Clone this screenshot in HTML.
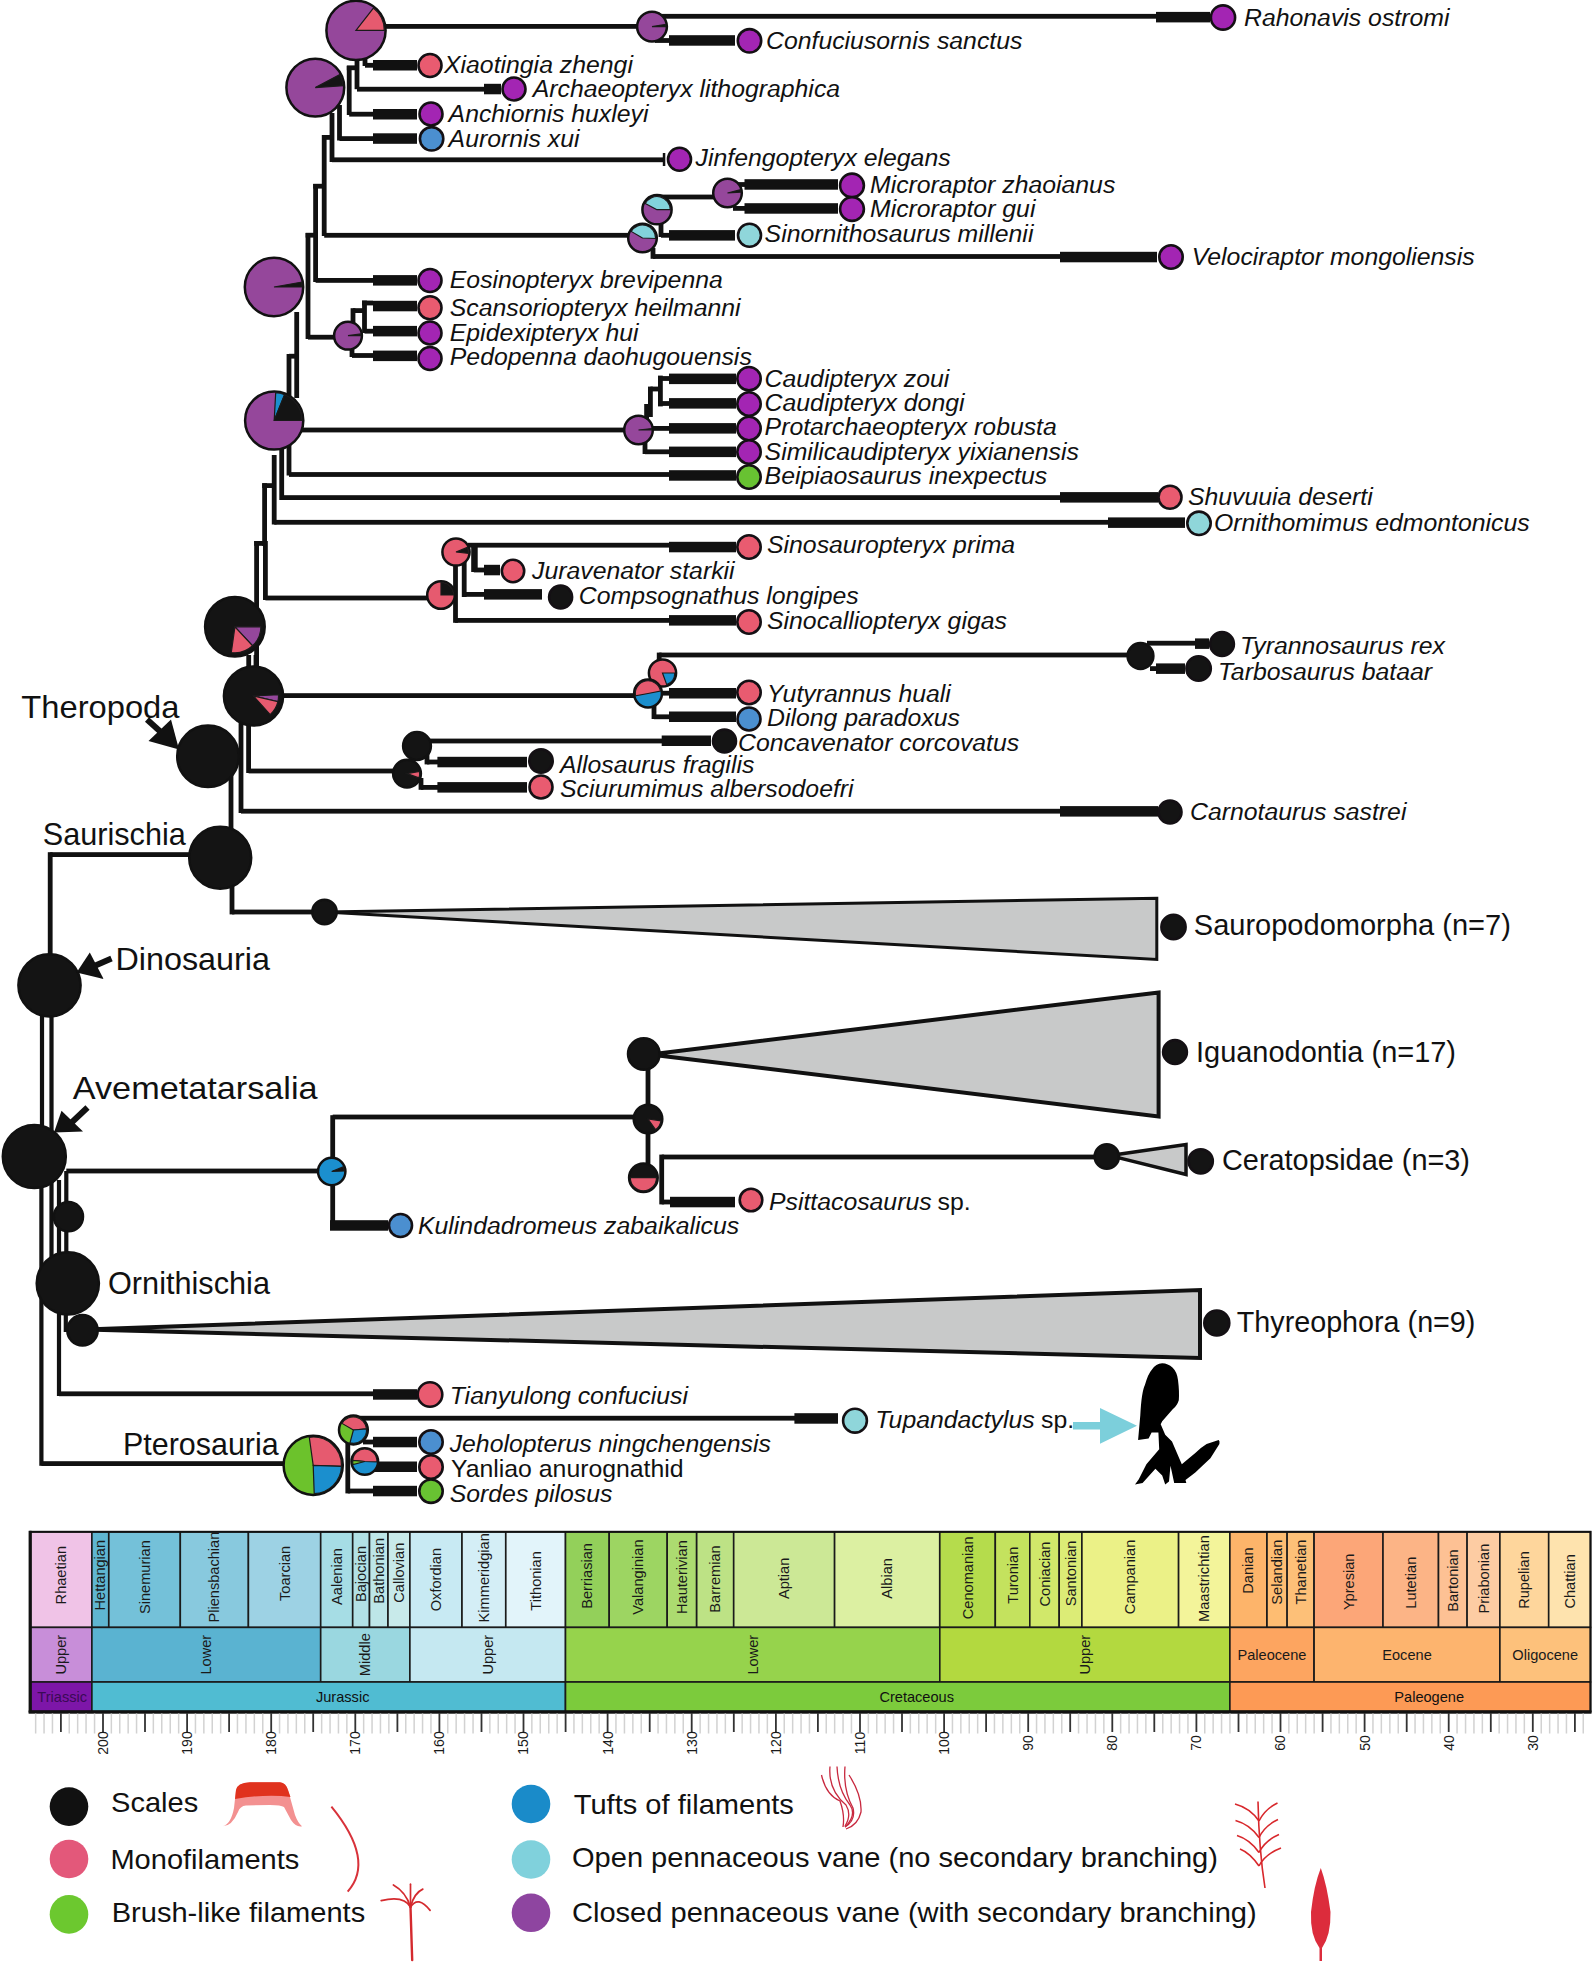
<!DOCTYPE html>
<html><head><meta charset="utf-8"><title>Dinosaur integument phylogeny</title>
<style>html,body{margin:0;padding:0;background:#fff;width:1593px;height:1967px;overflow:hidden;position:relative}</style>
</head><body>
<svg width="1593" height="1967" viewBox="0 0 1593 1967" style="position:absolute;left:0;top:0;font-family:'Liberation Sans',sans-serif">
<rect width="1593" height="1967" fill="#fff"/>
<g fill="#111">
<rect x="370.0" y="24.0" width="282.0" height="4.8"/>
<rect x="655.0" y="13.9" width="501.0" height="4.8"/>
<rect x="654.6" y="12.0" width="4.8" height="8.0"/>
<rect x="1156.0" y="11.9" width="54.0" height="10.5"/>
<rect x="655.0" y="38.1" width="14.0" height="4.8"/>
<rect x="669.0" y="35.2" width="66.0" height="10.5"/>
<rect x="354.6" y="55.0" width="4.8" height="34.2"/>
<rect x="357.0" y="86.8" width="127.0" height="4.8"/>
<rect x="484.0" y="83.8" width="17.0" height="10.5"/>
<rect x="362.6" y="58.0" width="4.8" height="8.0"/>
<rect x="365.0" y="62.9" width="8.0" height="4.8"/>
<rect x="373.0" y="60.0" width="44.0" height="10.5"/>
<rect x="346.8" y="65.4" width="11.2" height="4.8"/>
<rect x="346.8" y="66.0" width="4.8" height="49.0"/>
<rect x="349.2" y="111.8" width="23.8" height="4.8"/>
<rect x="373.0" y="109.0" width="44.0" height="10.5"/>
<rect x="337.1" y="105.0" width="4.8" height="35.5"/>
<rect x="339.5" y="136.2" width="33.5" height="4.8"/>
<rect x="373.0" y="133.3" width="44.0" height="10.5"/>
<rect x="329.6" y="113.0" width="4.8" height="49.0"/>
<rect x="332.0" y="157.4" width="333.0" height="4.8"/>
<rect x="662.8" y="153.0" width="2.5" height="13.0"/>
<rect x="321.8" y="135.0" width="4.8" height="101.0"/>
<rect x="322.0" y="135.0" width="12.0" height="4.8"/>
<rect x="324.2" y="232.9" width="305.8" height="4.8"/>
<rect x="313.2" y="184.0" width="4.8" height="98.0"/>
<rect x="313.2" y="183.8" width="12.8" height="4.8"/>
<rect x="315.6" y="278.0" width="57.4" height="4.8"/>
<rect x="373.0" y="275.1" width="44.0" height="10.5"/>
<rect x="305.6" y="233.0" width="4.8" height="106.0"/>
<rect x="305.6" y="232.8" width="12.4" height="4.8"/>
<rect x="308.0" y="334.8" width="27.0" height="4.8"/>
<rect x="660.0" y="194.6" width="54.0" height="4.8"/>
<rect x="735.0" y="182.1" width="10.0" height="4.8"/>
<rect x="744.5" y="179.2" width="93.5" height="10.5"/>
<rect x="733.0" y="206.0" width="12.0" height="4.8"/>
<rect x="744.5" y="203.2" width="93.5" height="10.5"/>
<rect x="658.6" y="222.0" width="4.8" height="15.0"/>
<rect x="661.0" y="232.9" width="8.0" height="4.8"/>
<rect x="669.0" y="230.1" width="66.0" height="10.5"/>
<rect x="650.6" y="248.0" width="4.8" height="10.8"/>
<rect x="653.0" y="254.1" width="407.0" height="4.8"/>
<rect x="1060.0" y="251.8" width="97.0" height="10.5"/>
<rect x="362.1" y="300.6" width="4.8" height="32.4"/>
<rect x="362.0" y="300.6" width="11.0" height="4.8"/>
<rect x="373.0" y="300.8" width="44.0" height="10.5"/>
<rect x="350.6" y="308.2" width="4.8" height="23.8"/>
<rect x="353.0" y="308.2" width="13.0" height="4.8"/>
<rect x="364.5" y="328.8" width="8.5" height="4.8"/>
<rect x="373.0" y="325.9" width="44.0" height="10.5"/>
<rect x="349.6" y="343.0" width="4.8" height="14.0"/>
<rect x="352.0" y="353.1" width="21.0" height="4.8"/>
<rect x="373.0" y="350.6" width="44.0" height="10.5"/>
<rect x="294.3" y="312.0" width="4.8" height="86.0"/>
<rect x="286.6" y="354.0" width="4.8" height="121.5"/>
<rect x="289.0" y="353.8" width="9.0" height="4.8"/>
<rect x="300.0" y="427.6" width="325.0" height="4.8"/>
<rect x="658.0" y="375.6" width="4.8" height="30.8"/>
<rect x="660.4" y="376.1" width="8.6" height="4.8"/>
<rect x="660.4" y="401.1" width="8.6" height="4.8"/>
<rect x="669.0" y="373.6" width="67.0" height="10.5"/>
<rect x="669.0" y="398.1" width="67.0" height="10.5"/>
<rect x="648.0" y="386.6" width="4.8" height="30.4"/>
<rect x="650.4" y="386.6" width="11.6" height="4.8"/>
<rect x="644.2" y="404.0" width="4.8" height="16.0"/>
<rect x="650.0" y="426.0" width="19.0" height="4.8"/>
<rect x="669.0" y="423.1" width="67.0" height="10.5"/>
<rect x="642.6" y="440.0" width="4.8" height="14.0"/>
<rect x="645.0" y="449.4" width="24.0" height="4.8"/>
<rect x="669.0" y="446.6" width="67.0" height="10.5"/>
<rect x="289.0" y="472.1" width="380.0" height="4.8"/>
<rect x="669.0" y="470.2" width="67.0" height="10.5"/>
<rect x="279.3" y="445.0" width="4.8" height="55.0"/>
<rect x="281.7" y="495.2" width="778.3" height="4.8"/>
<rect x="1060.0" y="492.1" width="98.0" height="10.5"/>
<rect x="271.8" y="455.0" width="4.8" height="69.5"/>
<rect x="274.2" y="519.9" width="833.8" height="4.8"/>
<rect x="1108.0" y="517.4" width="77.0" height="10.5"/>
<rect x="262.2" y="483.2" width="4.8" height="62.8"/>
<rect x="262.2" y="483.2" width="13.8" height="4.8"/>
<rect x="254.2" y="541.0" width="4.8" height="127.0"/>
<rect x="254.2" y="541.0" width="12.8" height="4.8"/>
<rect x="263.0" y="541.0" width="4.8" height="59.0"/>
<rect x="265.4" y="595.6" width="164.6" height="4.8"/>
<rect x="468.0" y="542.8" width="201.0" height="4.8"/>
<rect x="669.0" y="541.8" width="67.0" height="10.5"/>
<rect x="471.2" y="543.0" width="6.5" height="29.0"/>
<rect x="473.8" y="567.6" width="10.2" height="4.8"/>
<rect x="484.0" y="564.8" width="16.0" height="10.5"/>
<rect x="461.8" y="560.0" width="4.8" height="37.0"/>
<rect x="463.7" y="592.0" width="20.3" height="4.8"/>
<rect x="484.0" y="589.1" width="58.0" height="10.5"/>
<rect x="453.1" y="560.0" width="4.8" height="62.8"/>
<rect x="455.0" y="618.0" width="214.0" height="4.8"/>
<rect x="669.0" y="615.1" width="67.0" height="10.5"/>
<rect x="246.3" y="655.0" width="4.8" height="15.0"/>
<rect x="253.6" y="655.0" width="4.8" height="15.0"/>
<rect x="280.0" y="693.2" width="355.0" height="4.8"/>
<rect x="656.8" y="652.6" width="4.8" height="13.4"/>
<rect x="659.2" y="652.6" width="468.8" height="4.8"/>
<rect x="1147.0" y="640.8" width="49.0" height="4.8"/>
<rect x="1195.0" y="638.4" width="14.0" height="10.5"/>
<rect x="1150.0" y="666.2" width="7.0" height="4.8"/>
<rect x="1156.0" y="663.4" width="29.0" height="10.5"/>
<rect x="660.0" y="690.8" width="9.0" height="4.8"/>
<rect x="669.0" y="688.0" width="67.0" height="10.5"/>
<rect x="651.6" y="703.0" width="4.8" height="16.0"/>
<rect x="654.0" y="714.4" width="15.0" height="4.8"/>
<rect x="669.0" y="711.5" width="67.0" height="10.5"/>
<rect x="238.6" y="720.0" width="4.8" height="93.0"/>
<rect x="241.0" y="808.8" width="819.0" height="4.8"/>
<rect x="1060.0" y="806.1" width="98.0" height="10.5"/>
<rect x="246.2" y="720.0" width="4.8" height="53.0"/>
<rect x="248.6" y="768.6" width="146.4" height="4.8"/>
<rect x="430.0" y="738.6" width="232.0" height="4.8"/>
<rect x="661.7" y="735.5" width="49.3" height="10.5"/>
<rect x="424.6" y="754.0" width="4.8" height="10.4"/>
<rect x="427.0" y="759.6" width="11.0" height="4.8"/>
<rect x="437.4" y="756.8" width="89.6" height="10.5"/>
<rect x="418.6" y="778.0" width="4.8" height="11.8"/>
<rect x="421.0" y="785.0" width="17.0" height="4.8"/>
<rect x="437.4" y="782.1" width="89.6" height="10.5"/>
<rect x="228.6" y="770.0" width="4.8" height="60.0"/>
<rect x="50.2" y="852.2" width="144.8" height="4.8"/>
<rect x="47.8" y="852.2" width="4.8" height="107.8"/>
<rect x="229.6" y="880.0" width="4.8" height="34.4"/>
<rect x="232.0" y="909.6" width="83.0" height="4.8"/>
<rect x="39.9" y="1010.0" width="4.2" height="120.0"/>
<rect x="49.4" y="1010.0" width="4.2" height="120.0"/>
<rect x="39.3" y="1180.0" width="4.2" height="285.8"/>
<rect x="49.4" y="1180.0" width="4.2" height="80.0"/>
<rect x="56.9" y="1180.0" width="4.2" height="216.0"/>
<rect x="64.2" y="1171.0" width="4.2" height="89.0"/>
<rect x="41.4" y="1461.2" width="248.6" height="4.8"/>
<rect x="59.0" y="1391.4" width="314.0" height="4.8"/>
<rect x="373.0" y="1389.2" width="44.0" height="10.5"/>
<rect x="63.7" y="1300.0" width="4.2" height="32.0"/>
<rect x="65.8" y="1327.2" width="24.2" height="4.8"/>
<rect x="66.3" y="1168.6" width="253.7" height="4.8"/>
<rect x="330.3" y="1115.2" width="4.8" height="114.8"/>
<rect x="332.7" y="1114.6" width="307.3" height="4.8"/>
<rect x="330.0" y="1220.2" width="58.0" height="10.5"/>
<rect x="645.6" y="1060.0" width="4.8" height="105.0"/>
<rect x="659.3" y="1154.6" width="4.8" height="49.8"/>
<rect x="661.7" y="1154.6" width="433.3" height="4.8"/>
<rect x="661.7" y="1199.6" width="8.3" height="4.8"/>
<rect x="670.0" y="1196.8" width="65.0" height="10.5"/>
<rect x="360.0" y="1415.8" width="435.0" height="4.8"/>
<rect x="794.4" y="1413.2" width="43.6" height="10.5"/>
<rect x="363.0" y="1439.6" width="10.0" height="4.8"/>
<rect x="373.0" y="1436.8" width="44.0" height="10.5"/>
<rect x="370.0" y="1464.4" width="3.0" height="4.8"/>
<rect x="373.0" y="1461.5" width="44.0" height="10.5"/>
<rect x="345.4" y="1440.0" width="4.8" height="53.4"/>
<rect x="347.8" y="1488.6" width="25.2" height="4.8"/>
<rect x="373.0" y="1485.8" width="44.0" height="10.5"/>
</g>
<g fill="#c8c9c9" stroke="#111" stroke-linejoin="miter">
<path d="M325,912 L1156.8,898.2 L1156.8,959.5 Z" stroke-width="3"/>
<path d="M650,1054.4 L1158.6,992.4 L1158.6,1116.4 Z" stroke-width="4"/>
<path d="M1110,1155.6 L1186,1144.6 L1186,1174.5 Z" stroke-width="3.5"/>
<path d="M85,1329.6 L1200,1290 L1200,1358 Z" stroke-width="4"/>
</g>
<circle cx="356.0" cy="30.4" r="29.6" fill="#95479b" stroke="#111" stroke-width="2.5"/>
<path d="M356.0,30.4 L373.4,8.1 A28.3,28.3 0 0 1 384.3,30.4 Z" fill="#e65a6f" stroke="#1a1a1a" stroke-width="1.2"/>
<circle cx="315.3" cy="87.6" r="28.9" fill="#95479b" stroke="#111" stroke-width="2.5"/>
<path d="M315.3,87.6 L339.8,74.6 A27.7,27.7 0 0 1 342.9,85.7 Z" fill="#141414" stroke="#1a1a1a" stroke-width="1.2"/>
<circle cx="652.0" cy="26.6" r="14.9" fill="#95479b" stroke="#111" stroke-width="2.5"/>
<path d="M652.0,26.6 L665.5,24.5 A13.7,13.7 0 0 1 665.7,26.6 Z" fill="#141414" stroke="#1a1a1a" stroke-width="1.2"/>
<circle cx="1223.0" cy="17.5" r="12.1" fill="#a325b3" stroke="#141014" stroke-width="2.6"/>
<circle cx="749.5" cy="40.8" r="11.7" fill="#a325b3" stroke="#141014" stroke-width="2.6"/>
<circle cx="514.0" cy="89.0" r="11.5" fill="#a325b3" stroke="#141014" stroke-width="2.6"/>
<circle cx="430.0" cy="65.5" r="11.5" fill="#e95b70" stroke="#141014" stroke-width="2.6"/>
<circle cx="431.0" cy="114.0" r="11.5" fill="#a325b3" stroke="#141014" stroke-width="2.6"/>
<circle cx="431.6" cy="138.8" r="11.7" fill="#4b8fd0" stroke="#141014" stroke-width="2.6"/>
<circle cx="679.5" cy="159.2" r="11.5" fill="#a325b3" stroke="#141014" stroke-width="2.6"/>
<circle cx="727.5" cy="193.0" r="14.3" fill="#95479b" stroke="#111" stroke-width="2.5"/>
<path d="M727.5,193.0 L740.2,189.8 A13.1,13.1 0 0 1 740.6,192.1 Z" fill="#141414" stroke="#1a1a1a" stroke-width="1.2"/>
<circle cx="657.0" cy="209.7" r="14.6" fill="#95479b" stroke="#111" stroke-width="2.5"/>
<path d="M657.0,209.7 L645.3,203.5 A13.3,13.3 0 0 1 670.3,209.7 Z" fill="#82d3db" stroke="#1a1a1a" stroke-width="1.2"/>
<circle cx="642.5" cy="238.0" r="14.3" fill="#95479b" stroke="#111" stroke-width="2.5"/>
<path d="M642.5,238.0 L631.2,231.4 A13.1,13.1 0 0 1 655.6,238.5 Z" fill="#82d3db" stroke="#1a1a1a" stroke-width="1.2"/>
<circle cx="852.0" cy="185.5" r="11.9" fill="#a325b3" stroke="#141014" stroke-width="2.6"/>
<circle cx="852.0" cy="209.0" r="11.9" fill="#a325b3" stroke="#141014" stroke-width="2.6"/>
<circle cx="749.5" cy="235.2" r="11.5" fill="#8fd6da" stroke="#141014" stroke-width="2.6"/>
<circle cx="1171.0" cy="257.0" r="11.7" fill="#a325b3" stroke="#141014" stroke-width="2.6"/>
<circle cx="274.0" cy="287.0" r="29.2" fill="#95479b" stroke="#111" stroke-width="2.5"/>
<path d="M274.0,287.0 L301.6,282.1 A28.0,28.0 0 0 1 302.0,287.0 Z" fill="#141414" stroke="#1a1a1a" stroke-width="1.2"/>
<circle cx="348.0" cy="335.7" r="13.9" fill="#95479b" stroke="#111" stroke-width="2.5"/>
<path d="M348.0,335.7 L360.6,333.9 A12.7,12.7 0 0 1 360.7,335.7 Z" fill="#141414" stroke="#1a1a1a" stroke-width="1.2"/>
<circle cx="430.0" cy="280.5" r="11.5" fill="#a325b3" stroke="#141014" stroke-width="2.6"/>
<circle cx="430.0" cy="307.7" r="11.5" fill="#e95b70" stroke="#141014" stroke-width="2.6"/>
<circle cx="430.0" cy="333.0" r="11.5" fill="#a325b3" stroke="#141014" stroke-width="2.6"/>
<circle cx="430.0" cy="358.5" r="11.5" fill="#a325b3" stroke="#141014" stroke-width="2.6"/>
<circle cx="274.2" cy="420.5" r="29.1" fill="#95479b" stroke="#111" stroke-width="2.5"/>
<path d="M274.2,420.5 L275.7,392.7 A27.8,27.8 0 0 1 284.6,394.7 Z" fill="#1b8fce" stroke="#1a1a1a" stroke-width="1.2"/>
<path d="M274.2,420.5 L284.6,394.7 A27.8,27.8 0 0 1 302.0,420.5 Z" fill="#141414" stroke="#1a1a1a" stroke-width="1.2"/>
<circle cx="638.5" cy="430.0" r="14.3" fill="#95479b" stroke="#111" stroke-width="2.5"/>
<path d="M638.5,430.0 L651.5,428.6 A13.1,13.1 0 0 1 651.6,430.0 Z" fill="#141414" stroke="#1a1a1a" stroke-width="1.2"/>
<circle cx="749.0" cy="378.7" r="11.7" fill="#a325b3" stroke="#141014" stroke-width="2.6"/>
<circle cx="749.0" cy="404.0" r="11.7" fill="#a325b3" stroke="#141014" stroke-width="2.6"/>
<circle cx="749.0" cy="428.5" r="11.7" fill="#a325b3" stroke="#141014" stroke-width="2.6"/>
<circle cx="749.0" cy="452.0" r="11.7" fill="#a325b3" stroke="#141014" stroke-width="2.6"/>
<circle cx="749.0" cy="477.0" r="11.7" fill="#68c232" stroke="#141014" stroke-width="2.6"/>
<circle cx="1170.0" cy="497.2" r="11.5" fill="#e95b70" stroke="#141014" stroke-width="2.6"/>
<circle cx="1199.0" cy="523.3" r="11.7" fill="#8fd6da" stroke="#141014" stroke-width="2.6"/>
<circle cx="456.0" cy="552.0" r="13.6" fill="#e65a6f" stroke="#111" stroke-width="2.5"/>
<path d="M456.0,552.0 L467.4,547.4 A12.3,12.3 0 0 1 468.2,553.3 Z" fill="#141414" stroke="#1a1a1a" stroke-width="1.2"/>
<circle cx="441.0" cy="595.0" r="13.8" fill="#e65a6f" stroke="#111" stroke-width="2.5"/>
<path d="M441.0,595.0 L441.0,582.5 A12.5,12.5 0 0 1 453.5,595.0 Z" fill="#141414" stroke="#1a1a1a" stroke-width="1.2"/>
<circle cx="749.0" cy="547.0" r="11.7" fill="#e95b70" stroke="#141014" stroke-width="2.6"/>
<circle cx="513.0" cy="571.0" r="11.2" fill="#e95b70" stroke="#141014" stroke-width="2.6"/>
<circle cx="560.6" cy="597.0" r="11.5" fill="#141414" stroke="#141014" stroke-width="2.6"/>
<circle cx="749.0" cy="622.0" r="11.7" fill="#e95b70" stroke="#141014" stroke-width="2.6"/>
<circle cx="234.9" cy="626.8" r="29.8" fill="#141414" stroke="#111" stroke-width="2.5"/>
<path d="M234.9,626.8 L260.9,626.8 A26.0,26.0 0 0 1 252.6,645.8 Z" fill="#95479b" stroke="#1a1a1a" stroke-width="1.2"/>
<path d="M234.9,626.8 L252.6,645.8 A26.0,26.0 0 0 1 231.3,652.5 Z" fill="#e65a6f" stroke="#1a1a1a" stroke-width="1.2"/>
<circle cx="253.5" cy="696.0" r="29.6" fill="#141414" stroke="#111" stroke-width="2.5"/>
<path d="M253.5,696.0 L278.5,694.7 A25.0,25.0 0 0 1 277.9,701.6 Z" fill="#95479b" stroke="#1a1a1a" stroke-width="1.2"/>
<path d="M253.5,696.0 L277.9,701.6 A25.0,25.0 0 0 1 270.2,714.6 Z" fill="#e65a6f" stroke="#1a1a1a" stroke-width="1.2"/>
<circle cx="662.5" cy="673.0" r="13.6" fill="#e65a6f" stroke="#111" stroke-width="2.5"/>
<path d="M662.5,673.0 L674.8,673.0 A12.3,12.3 0 0 1 666.7,684.6 Z" fill="#1b8fce" stroke="#1a1a1a" stroke-width="1.2"/>
<circle cx="648.0" cy="693.5" r="13.9" fill="#1b8fce" stroke="#111" stroke-width="2.5"/>
<path d="M648.0,693.5 L635.5,695.9 A12.7,12.7 0 0 1 660.5,691.1 Z" fill="#e65a6f" stroke="#1a1a1a" stroke-width="1.2"/>
<circle cx="1140.5" cy="656.0" r="12.9" fill="#141414" stroke="#111" stroke-width="2.5"/>
<circle cx="1222.0" cy="644.0" r="11.9" fill="#141414" stroke="#141014" stroke-width="2.6"/>
<circle cx="1198.6" cy="668.5" r="12.2" fill="#141414" stroke="#141014" stroke-width="2.6"/>
<circle cx="749.0" cy="692.5" r="11.7" fill="#e95b70" stroke="#141014" stroke-width="2.6"/>
<circle cx="749.0" cy="719.0" r="11.5" fill="#4b8fd0" stroke="#141014" stroke-width="2.6"/>
<circle cx="417.0" cy="746.0" r="13.9" fill="#141414" stroke="#111" stroke-width="2.5"/>
<circle cx="407.0" cy="773.6" r="13.9" fill="#141414" stroke="#111" stroke-width="2.5"/>
<path d="M407.0,773.6 L419.5,771.4 A12.7,12.7 0 0 1 418.9,777.9 Z" fill="#e65a6f" stroke="#1a1a1a" stroke-width="1.2"/>
<circle cx="724.5" cy="741.0" r="11.5" fill="#141414" stroke="#141014" stroke-width="2.6"/>
<circle cx="541.0" cy="761.0" r="11.7" fill="#141414" stroke="#141014" stroke-width="2.6"/>
<circle cx="541.0" cy="787.0" r="11.5" fill="#e95b70" stroke="#141014" stroke-width="2.6"/>
<circle cx="1170.0" cy="812.0" r="11.5" fill="#141414" stroke="#141014" stroke-width="2.6"/>
<circle cx="208.0" cy="756.3" r="30.8" fill="#141414" stroke="#111" stroke-width="2.5"/>
<circle cx="220.2" cy="857.7" r="31.0" fill="#141414" stroke="#111" stroke-width="2.5"/>
<circle cx="49.5" cy="985.3" r="31.1" fill="#141414" stroke="#111" stroke-width="2.5"/>
<circle cx="34.3" cy="1156.5" r="31.5" fill="#141414" stroke="#111" stroke-width="2.5"/>
<circle cx="67.8" cy="1283.3" r="31.1" fill="#141414" stroke="#111" stroke-width="2.5"/>
<circle cx="68.4" cy="1216.7" r="14.6" fill="#141414" stroke="#111" stroke-width="2.5"/>
<circle cx="82.5" cy="1330.3" r="15.2" fill="#141414" stroke="#111" stroke-width="2.5"/>
<circle cx="324.5" cy="912.0" r="12.2" fill="#141414" stroke="#111" stroke-width="2.5"/>
<circle cx="1173.5" cy="927.0" r="12.1" fill="#141414" stroke="#141014" stroke-width="2.6"/>
<circle cx="331.7" cy="1171.5" r="13.7" fill="#1b8fce" stroke="#111" stroke-width="2.5"/>
<path d="M331.7,1171.5 L343.2,1166.9 A12.4,12.4 0 0 1 344.1,1170.9 Z" fill="#141414" stroke="#1a1a1a" stroke-width="1.2"/>
<circle cx="400.5" cy="1225.5" r="11.5" fill="#4b8fd0" stroke="#141014" stroke-width="2.6"/>
<circle cx="643.8" cy="1054.0" r="15.8" fill="#141414" stroke="#111" stroke-width="2.5"/>
<circle cx="648.0" cy="1119.0" r="14.3" fill="#141414" stroke="#111" stroke-width="2.5"/>
<path d="M648.0,1119.0 L661.0,1120.8 A13.1,13.1 0 0 1 655.5,1129.7 Z" fill="#e65a6f" stroke="#1a1a1a" stroke-width="1.2"/>
<circle cx="643.4" cy="1177.7" r="14.3" fill="#141414" stroke="#111" stroke-width="2.5"/>
<path d="M643.4,1177.7 L656.5,1177.7 A13.1,13.1 0 0 1 630.3,1177.7 Z" fill="#e65a6f" stroke="#1a1a1a" stroke-width="1.2"/>
<circle cx="1106.8" cy="1156.5" r="12.2" fill="#141414" stroke="#111" stroke-width="2.5"/>
<circle cx="1175.0" cy="1052.0" r="11.9" fill="#141414" stroke="#141014" stroke-width="2.6"/>
<circle cx="1200.7" cy="1161.3" r="12.1" fill="#141414" stroke="#141014" stroke-width="2.6"/>
<circle cx="751.0" cy="1200.0" r="11.3" fill="#e95b70" stroke="#141014" stroke-width="2.6"/>
<circle cx="1216.8" cy="1323.0" r="12.5" fill="#141414" stroke="#141014" stroke-width="2.6"/>
<circle cx="430.0" cy="1394.5" r="12.3" fill="#e95b70" stroke="#141014" stroke-width="2.6"/>
<circle cx="313.2" cy="1465.3" r="29.6" fill="#6cc22c" stroke="#111" stroke-width="2.5"/>
<path d="M313.2,1465.3 L309.3,1437.3 A28.3,28.3 0 0 1 341.5,1466.3 Z" fill="#e65a6f" stroke="#1a1a1a" stroke-width="1.2"/>
<path d="M313.2,1465.3 L341.5,1466.3 A28.3,28.3 0 0 1 314.2,1493.6 Z" fill="#1b8fce" stroke="#1a1a1a" stroke-width="1.2"/>
<circle cx="353.4" cy="1430.0" r="14.4" fill="#6cc22c" stroke="#111" stroke-width="2.5"/>
<path d="M353.4,1430.0 L342.0,1423.4 A13.2,13.2 0 0 1 366.5,1428.8 Z" fill="#e65a6f" stroke="#1a1a1a" stroke-width="1.2"/>
<path d="M353.4,1430.0 L366.5,1428.8 A13.2,13.2 0 0 1 350.0,1442.8 Z" fill="#1b8fce" stroke="#1a1a1a" stroke-width="1.2"/>
<circle cx="364.8" cy="1461.5" r="13.3" fill="#1b8fce" stroke="#111" stroke-width="2.5"/>
<path d="M364.8,1461.5 L352.7,1460.4 A12.1,12.1 0 0 1 376.9,1461.9 Z" fill="#e65a6f" stroke="#1a1a1a" stroke-width="1.2"/>
<path d="M364.8,1461.5 L353.1,1464.6 A12.1,12.1 0 0 1 352.7,1460.4 Z" fill="#6cc22c" stroke="#1a1a1a" stroke-width="1.2"/>
<circle cx="855.0" cy="1420.7" r="11.9" fill="#8fd6da" stroke="#141014" stroke-width="2.6"/>
<circle cx="431.0" cy="1442.0" r="11.7" fill="#4b8fd0" stroke="#141014" stroke-width="2.6"/>
<circle cx="431.0" cy="1467.0" r="11.7" fill="#e95b70" stroke="#141014" stroke-width="2.6"/>
<circle cx="431.0" cy="1491.2" r="11.7" fill="#68c232" stroke="#141014" stroke-width="2.6"/>
<g fill="#111" stroke="#111" stroke-width="6" stroke-linecap="butt">
<line x1="147" y1="719.5" x2="163" y2="734"/>
<line x1="111.5" y1="958.5" x2="92" y2="967"/>
<line x1="87.5" y1="1107.5" x2="70" y2="1124"/>
</g>
<g fill="#111">
<path d="M179,749.5 L148.5,741 L171,719.5 Z"/>
<path d="M76.6,972.6 L89.8,952.6 L103.6,978.9 Z"/>
<path d="M54,1132.5 L61.5,1110.7 L83,1131.4 Z"/>
</g>
<path d="M1073,1422 L1100,1422 L1100,1408 L1137,1425.7 L1100,1443.8 L1100,1429.5 L1073,1429.5 Z" fill="#7ccfdb"/>
<path fill="#000" d="M1138.1,1440.1 L1140.3,1415.3 Q1141.5,1392 1144.9,1385.1 Q1148,1374 1151.6,1370 Q1156,1363.3 1162.2,1363.3 Q1168,1363.5 1172.7,1367.8 Q1177,1372 1178,1379.9 Q1179.5,1392 1178.8,1400.2 Q1177,1406 1172.7,1409.2 L1162.2,1421.3 L1160.7,1424.3 L1165.2,1434.8 L1172,1441.6 L1181.8,1464.2 L1195.3,1452.9 Q1200,1448 1206.6,1443.9 L1218.7,1440.1 Q1220,1441 1219.4,1443.9 L1210.4,1458.2 L1195.3,1472.5 L1185.5,1480 L1186.3,1483 L1180.3,1483 L1174.2,1483 L1170.5,1465.7 L1169,1481.6 L1165.2,1484.6 L1162.2,1475.5 L1155.4,1468.7 L1142.6,1483 L1135,1484.6 L1138.8,1479.3 L1146.4,1464.2 L1159.2,1449.2 L1158.4,1432.6 L1151.6,1432.6 L1148.6,1438.6 Z"/>
<g fill="#111">
<text x="1244.0" y="26.0" style="font-style:italic;font-size:24.2px" textLength="205.4" lengthAdjust="spacingAndGlyphs">Rahonavis ostromi</text>
<text x="766.0" y="49.0" style="font-style:italic;font-size:24.2px" textLength="256.4" lengthAdjust="spacingAndGlyphs">Confuciusornis sanctus</text>
<text x="444.0" y="72.8" style="font-style:italic;font-size:24.2px" textLength="188.9" lengthAdjust="spacingAndGlyphs">Xiaotingia zhengi</text>
<text x="532.7" y="96.7" style="font-style:italic;font-size:24.2px" textLength="307.4" lengthAdjust="spacingAndGlyphs">Archaeopteryx lithographica</text>
<text x="448.6" y="121.8" style="font-style:italic;font-size:24.2px" textLength="199.9" lengthAdjust="spacingAndGlyphs">Anchiornis huxleyi</text>
<text x="448.6" y="146.9" style="font-style:italic;font-size:24.2px" textLength="130.9" lengthAdjust="spacingAndGlyphs">Aurornis xui</text>
<text x="695.6" y="165.7" style="font-style:italic;font-size:24.2px" textLength="255.0" lengthAdjust="spacingAndGlyphs">Jinfengopteryx elegans</text>
<text x="870.0" y="193.4" style="font-style:italic;font-size:24.2px" textLength="245.3" lengthAdjust="spacingAndGlyphs">Microraptor zhaoianus</text>
<text x="870.0" y="216.5" style="font-style:italic;font-size:24.2px" textLength="165.4" lengthAdjust="spacingAndGlyphs">Microraptor gui</text>
<text x="764.6" y="242.3" style="font-style:italic;font-size:24.2px" textLength="268.8" lengthAdjust="spacingAndGlyphs">Sinornithosaurus millenii</text>
<text x="1191.7" y="265.0" style="font-style:italic;font-size:24.2px" textLength="283.0" lengthAdjust="spacingAndGlyphs">Velociraptor mongoliensis</text>
<text x="449.8" y="288.0" style="font-style:italic;font-size:24.2px" textLength="273.0" lengthAdjust="spacingAndGlyphs">Eosinopteryx brevipenna</text>
<text x="449.8" y="315.6" style="font-style:italic;font-size:24.2px" textLength="290.8" lengthAdjust="spacingAndGlyphs">Scansoriopteryx heilmanni</text>
<text x="449.8" y="340.7" style="font-style:italic;font-size:24.2px" textLength="188.8" lengthAdjust="spacingAndGlyphs">Epidexipteryx hui</text>
<text x="449.8" y="364.6" style="font-style:italic;font-size:24.2px" textLength="302.0" lengthAdjust="spacingAndGlyphs">Pedopenna daohugouensis</text>
<text x="764.6" y="386.5" style="font-style:italic;font-size:24.2px" textLength="184.7" lengthAdjust="spacingAndGlyphs">Caudipteryx zoui</text>
<text x="764.6" y="410.8" style="font-style:italic;font-size:24.2px" textLength="199.9" lengthAdjust="spacingAndGlyphs">Caudipteryx dongi</text>
<text x="764.6" y="435.4" style="font-style:italic;font-size:24.2px" textLength="292.2" lengthAdjust="spacingAndGlyphs">Protarchaeopteryx robusta</text>
<text x="764.6" y="459.5" style="font-style:italic;font-size:24.2px" textLength="314.2" lengthAdjust="spacingAndGlyphs">Similicaudipteryx yixianensis</text>
<text x="764.6" y="484.4" style="font-style:italic;font-size:24.2px" textLength="282.6" lengthAdjust="spacingAndGlyphs">Beipiaosaurus inexpectus</text>
<text x="1188.0" y="504.7" style="font-style:italic;font-size:24.2px" textLength="184.7" lengthAdjust="spacingAndGlyphs">Shuvuuia deserti</text>
<text x="1214.0" y="530.7" style="font-style:italic;font-size:24.2px" textLength="315.6" lengthAdjust="spacingAndGlyphs">Ornithomimus edmontonicus</text>
<text x="767.0" y="553.4" style="font-style:italic;font-size:24.2px" textLength="248.1" lengthAdjust="spacingAndGlyphs">Sinosauropteryx prima</text>
<text x="532.0" y="579.0" style="font-style:italic;font-size:24.2px" textLength="202.6" lengthAdjust="spacingAndGlyphs">Juravenator starkii</text>
<text x="578.8" y="603.7" style="font-style:italic;font-size:24.2px" textLength="279.9" lengthAdjust="spacingAndGlyphs">Compsognathus longipes</text>
<text x="767.0" y="628.8" style="font-style:italic;font-size:24.2px" textLength="239.9" lengthAdjust="spacingAndGlyphs">Sinocalliopteryx gigas</text>
<text x="1240.0" y="653.6" style="font-style:italic;font-size:24.2px" textLength="204.9" lengthAdjust="spacingAndGlyphs">Tyrannosaurus rex</text>
<text x="1218.0" y="679.7" style="font-style:italic;font-size:24.2px" textLength="214.1" lengthAdjust="spacingAndGlyphs">Tarbosaurus bataar</text>
<text x="767.0" y="701.6" style="font-style:italic;font-size:24.2px" textLength="183.8" lengthAdjust="spacingAndGlyphs">Yutyrannus huali</text>
<text x="767.0" y="725.5" style="font-style:italic;font-size:24.2px" textLength="193.0" lengthAdjust="spacingAndGlyphs">Dilong paradoxus</text>
<text x="738.0" y="750.6" style="font-style:italic;font-size:24.2px" textLength="281.2" lengthAdjust="spacingAndGlyphs">Concavenator corcovatus</text>
<text x="560.0" y="773.0" style="font-style:italic;font-size:24.2px" textLength="194.3" lengthAdjust="spacingAndGlyphs">Allosaurus fragilis</text>
<text x="560.0" y="797.0" style="font-style:italic;font-size:24.2px" textLength="293.6" lengthAdjust="spacingAndGlyphs">Sciurumimus albersodoefri</text>
<text x="1190.0" y="820.0" style="font-style:italic;font-size:24.2px" textLength="216.4" lengthAdjust="spacingAndGlyphs">Carnotaurus sastrei</text>
<text x="769.0" y="1209.8" style="font-style:italic;font-size:24.2px" textLength="162.6" lengthAdjust="spacingAndGlyphs">Psittacosaurus</text>
<text x="418.0" y="1234.0" style="font-style:italic;font-size:24.2px" textLength="321.2" lengthAdjust="spacingAndGlyphs">Kulindadromeus zabaikalicus</text>
<text x="449.7" y="1404.0" style="font-style:italic;font-size:24.2px" textLength="238.3" lengthAdjust="spacingAndGlyphs">Tianyulong confuciusi</text>
<text x="875.3" y="1428.0" style="font-style:italic;font-size:24.2px" textLength="159.4" lengthAdjust="spacingAndGlyphs">Tupandactylus</text>
<text x="449.7" y="1452.0" style="font-style:italic;font-size:24.2px" textLength="321.2" lengthAdjust="spacingAndGlyphs">Jeholopterus ningchengensis</text>
<text x="449.7" y="1502.0" style="font-style:italic;font-size:24.2px" textLength="162.7" lengthAdjust="spacingAndGlyphs">Sordes pilosus</text>
<text x="937.6" y="1209.8" style="font-size:24.2px" textLength="33.1" lengthAdjust="spacingAndGlyphs">sp.</text>
<text x="1041.0" y="1428.0" style="font-size:24.2px" textLength="33.1" lengthAdjust="spacingAndGlyphs">sp.</text>
<text x="451.0" y="1476.8" style="font-size:24.2px" textLength="232.6" lengthAdjust="spacingAndGlyphs">Yanliao anurognathid</text>
<text x="21.3" y="717.7" style="font-size:31.5px" textLength="158.2" lengthAdjust="spacingAndGlyphs">Theropoda</text>
<text x="42.7" y="844.5" style="font-size:31.5px" textLength="143.1" lengthAdjust="spacingAndGlyphs">Saurischia</text>
<text x="115.5" y="970.0" style="font-size:31.5px" textLength="154.5" lengthAdjust="spacingAndGlyphs">Dinosauria</text>
<text x="72.8" y="1099.4" style="font-size:31.5px" textLength="244.8" lengthAdjust="spacingAndGlyphs">Avemetatarsalia</text>
<text x="108.0" y="1294.0" style="font-size:31.5px" textLength="162.0" lengthAdjust="spacingAndGlyphs">Ornithischia</text>
<text x="123.0" y="1454.7" style="font-size:31.5px" textLength="155.7" lengthAdjust="spacingAndGlyphs">Pterosauria</text>
<text x="1193.8" y="935.3" style="font-size:29px" textLength="317.0" lengthAdjust="spacingAndGlyphs">Sauropodomorpha (n=7)</text>
<text x="1196.0" y="1061.5" style="font-size:29px" textLength="260.0" lengthAdjust="spacingAndGlyphs">Iguanodontia (n=17)</text>
<text x="1222.0" y="1169.7" style="font-size:29px" textLength="248.0" lengthAdjust="spacingAndGlyphs">Ceratopsidae (n=3)</text>
<text x="1236.8" y="1331.5" style="font-size:29px" textLength="238.6" lengthAdjust="spacingAndGlyphs">Thyreophora (n=9)</text>
</g>
<g stroke="#1a1a1a" stroke-width="1.6">
<rect x="30.5" y="1531.8" width="61.4" height="95.6" fill="#f0c3e7"/>
<rect x="91.9" y="1531.8" width="16.8" height="95.6" fill="#5fb6d1"/>
<rect x="108.8" y="1531.8" width="71.5" height="95.6" fill="#74c1d9"/>
<rect x="180.3" y="1531.8" width="68.1" height="95.6" fill="#88c9de"/>
<rect x="248.4" y="1531.8" width="72.3" height="95.6" fill="#9dd2e4"/>
<rect x="320.7" y="1531.8" width="32.0" height="95.6" fill="#a6dde5"/>
<rect x="352.7" y="1531.8" width="16.8" height="95.6" fill="#b2e1e6"/>
<rect x="369.5" y="1531.8" width="18.5" height="95.6" fill="#bde6e8"/>
<rect x="388.0" y="1531.8" width="21.9" height="95.6" fill="#c8eaea"/>
<rect x="409.9" y="1531.8" width="52.1" height="95.6" fill="#c8eaf3"/>
<rect x="462.0" y="1531.8" width="43.7" height="95.6" fill="#d4eef6"/>
<rect x="505.8" y="1531.8" width="59.7" height="95.6" fill="#e2f4fa"/>
<rect x="565.5" y="1531.8" width="43.7" height="95.6" fill="#93d05a"/>
<rect x="609.2" y="1531.8" width="58.0" height="95.6" fill="#9dd562"/>
<rect x="667.2" y="1531.8" width="29.4" height="95.6" fill="#acdb70"/>
<rect x="696.7" y="1531.8" width="37.0" height="95.6" fill="#bde285"/>
<rect x="733.7" y="1531.8" width="100.9" height="95.6" fill="#cce896"/>
<rect x="834.6" y="1531.8" width="105.1" height="95.6" fill="#dcf0a2"/>
<rect x="939.8" y="1531.8" width="55.5" height="95.6" fill="#b5dc4c"/>
<rect x="995.3" y="1531.8" width="34.5" height="95.6" fill="#c4e25e"/>
<rect x="1029.8" y="1531.8" width="29.4" height="95.6" fill="#d1e86a"/>
<rect x="1059.2" y="1531.8" width="22.7" height="95.6" fill="#dcec76"/>
<rect x="1081.9" y="1531.8" width="96.7" height="95.6" fill="#ebf187"/>
<rect x="1178.6" y="1531.8" width="51.3" height="95.6" fill="#f3f49a"/>
<rect x="1229.9" y="1531.8" width="37.0" height="95.6" fill="#fdb46a"/>
<rect x="1267.0" y="1531.8" width="20.2" height="95.6" fill="#febd72"/>
<rect x="1287.1" y="1531.8" width="26.9" height="95.6" fill="#fdc078"/>
<rect x="1314.1" y="1531.8" width="69.0" height="95.6" fill="#fca678"/>
<rect x="1383.0" y="1531.8" width="55.5" height="95.6" fill="#fcb486"/>
<rect x="1438.5" y="1531.8" width="28.6" height="95.6" fill="#fdc194"/>
<rect x="1467.1" y="1531.8" width="32.8" height="95.6" fill="#fdcca3"/>
<rect x="1499.9" y="1531.8" width="48.8" height="95.6" fill="#fed69c"/>
<rect x="1548.7" y="1531.8" width="41.8" height="95.6" fill="#fee3ae"/>
<rect x="30.5" y="1627.4" width="61.4" height="54.6" fill="#c88ed9"/>
<rect x="91.9" y="1627.4" width="228.8" height="54.6" fill="#5ab3d1"/>
<rect x="320.7" y="1627.4" width="89.2" height="54.6" fill="#9ad7e0"/>
<rect x="409.9" y="1627.4" width="155.6" height="54.6" fill="#c5e8f1"/>
<rect x="565.5" y="1627.4" width="374.3" height="54.6" fill="#96d34c"/>
<rect x="939.8" y="1627.4" width="290.2" height="54.6" fill="#b3d93f"/>
<rect x="1229.9" y="1627.4" width="84.1" height="54.6" fill="#fda560"/>
<rect x="1314.1" y="1627.4" width="185.9" height="54.6" fill="#fdb46e"/>
<rect x="1499.9" y="1627.4" width="90.6" height="54.6" fill="#fdc17b"/>
<rect x="30.5" y="1682.0" width="61.4" height="29.5" fill="#7d16a8"/>
<rect x="91.9" y="1682.0" width="473.5" height="29.5" fill="#50bcd2"/>
<rect x="565.5" y="1682.0" width="664.5" height="29.5" fill="#7ccb3c"/>
<rect x="1229.9" y="1682.0" width="360.6" height="29.5" fill="#fd9a55"/>
</g>
<rect x="30.5" y="1531.8" width="1560.0" height="179.7" fill="none" stroke="#111" stroke-width="2"/>
<rect x="28.6" y="1530.8" width="3" height="181.7" fill="#111"/>
<rect x="28.6" y="1710.5" width="1562.9" height="3.2" fill="#111"/>
<g fill="#1a1a1a" style="font-size:14.6px">
<text transform="translate(66.2,1575.2) rotate(-90)" text-anchor="middle">Rhaetian</text>
<text transform="translate(105.3,1575.2) rotate(-90)" text-anchor="middle">Hettangian</text>
<text transform="translate(149.5,1577.1) rotate(-90)" text-anchor="middle">Sinemurian</text>
<text transform="translate(219.3,1577.1) rotate(-90)" text-anchor="middle">Pliensbachian</text>
<text transform="translate(289.5,1573.4) rotate(-90)" text-anchor="middle">Toarcian</text>
<text transform="translate(341.7,1576.5) rotate(-90)" text-anchor="middle">Aalenian</text>
<text transform="translate(366.1,1574.0) rotate(-90)" text-anchor="middle">Bajocian</text>
<text transform="translate(383.8,1570.8) rotate(-90)" text-anchor="middle">Bathonian</text>
<text transform="translate(403.9,1572.7) rotate(-90)" text-anchor="middle">Callovian</text>
<text transform="translate(440.9,1579.6) rotate(-90)" text-anchor="middle">Oxfordian</text>
<text transform="translate(488.9,1577.8) rotate(-90)" text-anchor="middle">Kimmeridgian</text>
<text transform="translate(540.6,1580.9) rotate(-90)" text-anchor="middle">Tithonian</text>
<text transform="translate(592.3,1575.9) rotate(-90)" text-anchor="middle">Berriasian</text>
<text transform="translate(643.2,1577.1) rotate(-90)" text-anchor="middle">Valanginian</text>
<text transform="translate(687.0,1577.1) rotate(-90)" text-anchor="middle">Hauterivian</text>
<text transform="translate(720.2,1579.0) rotate(-90)" text-anchor="middle">Barremian</text>
<text transform="translate(789.2,1578.4) rotate(-90)" text-anchor="middle">Aptian</text>
<text transform="translate(892.2,1578.4) rotate(-90)" text-anchor="middle">Albian</text>
<text transform="translate(972.5,1577.8) rotate(-90)" text-anchor="middle">Cenomanian</text>
<text transform="translate(1017.5,1575.2) rotate(-90)" text-anchor="middle">Turonian</text>
<text transform="translate(1049.5,1574.0) rotate(-90)" text-anchor="middle">Coniacian</text>
<text transform="translate(1075.6,1573.4) rotate(-90)" text-anchor="middle">Santonian</text>
<text transform="translate(1135.3,1577.0) rotate(-90)" text-anchor="middle">Campanian</text>
<text transform="translate(1209.3,1578.6) rotate(-90)" text-anchor="middle">Maastrichtian</text>
<text transform="translate(1253.4,1570.6) rotate(-90)" text-anchor="middle">Danian</text>
<text transform="translate(1282.0,1572.2) rotate(-90)" text-anchor="middle">Selandian</text>
<text transform="translate(1305.6,1572.0) rotate(-90)" text-anchor="middle">Thanetian</text>
<text transform="translate(1353.5,1581.8) rotate(-90)" text-anchor="middle">Ypresian</text>
<text transform="translate(1415.8,1582.7) rotate(-90)" text-anchor="middle">Lutetian</text>
<text transform="translate(1457.8,1580.5) rotate(-90)" text-anchor="middle">Bartonian</text>
<text transform="translate(1488.5,1578.6) rotate(-90)" text-anchor="middle">Priabonian</text>
<text transform="translate(1529.3,1580.0) rotate(-90)" text-anchor="middle">Rupelian</text>
<text transform="translate(1574.6,1581.4) rotate(-90)" text-anchor="middle">Chattian</text>
<text transform="translate(66.2,1654.7) rotate(-90)" text-anchor="middle">Upper</text>
<text transform="translate(211.3,1654.7) rotate(-90)" text-anchor="middle">Lower</text>
<text transform="translate(370.3,1654.7) rotate(-90)" text-anchor="middle">Middle</text>
<text transform="translate(492.7,1654.7) rotate(-90)" text-anchor="middle">Upper</text>
<text transform="translate(757.6,1654.7) rotate(-90)" text-anchor="middle">Lower</text>
<text transform="translate(1089.9,1654.7) rotate(-90)" text-anchor="middle">Upper</text>
<text x="1272.0" y="1659.7" text-anchor="middle">Paleocene</text>
<text x="1407.0" y="1659.7" text-anchor="middle">Eocene</text>
<text x="1545.2" y="1659.7" text-anchor="middle">Oligocene</text>
<text x="62.2" y="1701.8" text-anchor="middle" fill="#3a0a55">Triassic</text>
<text x="342.7" y="1701.8" text-anchor="middle" fill="#111">Jurassic</text>
<text x="916.7" y="1701.8" text-anchor="middle" fill="#111">Cretaceous</text>
<text x="1429.2" y="1701.8" text-anchor="middle" fill="#111">Paleogene</text>
</g>
<g>
<rect x="34.9" y="1713.5" width="1.5" height="20" fill="#d2d2d2"/>
<rect x="43.3" y="1713.5" width="1.5" height="20" fill="#d2d2d2"/>
<rect x="51.7" y="1713.5" width="1.5" height="20" fill="#d2d2d2"/>
<rect x="60.0" y="1713.0" width="1.8" height="19" fill="#333"/>
<rect x="68.5" y="1713.5" width="1.5" height="20" fill="#d2d2d2"/>
<rect x="76.9" y="1713.5" width="1.5" height="20" fill="#d2d2d2"/>
<rect x="85.3" y="1713.5" width="1.5" height="20" fill="#d2d2d2"/>
<rect x="93.8" y="1713.5" width="1.5" height="20" fill="#d2d2d2"/>
<rect x="102.1" y="1713.0" width="1.8" height="19" fill="#333"/>
<rect x="110.6" y="1713.5" width="1.5" height="20" fill="#d2d2d2"/>
<rect x="119.0" y="1713.5" width="1.5" height="20" fill="#d2d2d2"/>
<rect x="127.4" y="1713.5" width="1.5" height="20" fill="#d2d2d2"/>
<rect x="135.8" y="1713.5" width="1.5" height="20" fill="#d2d2d2"/>
<rect x="144.1" y="1713.0" width="1.8" height="19" fill="#333"/>
<rect x="152.6" y="1713.5" width="1.5" height="20" fill="#d2d2d2"/>
<rect x="161.0" y="1713.5" width="1.5" height="20" fill="#d2d2d2"/>
<rect x="169.5" y="1713.5" width="1.5" height="20" fill="#d2d2d2"/>
<rect x="177.9" y="1713.5" width="1.5" height="20" fill="#d2d2d2"/>
<rect x="186.2" y="1713.0" width="1.8" height="19" fill="#333"/>
<rect x="194.7" y="1713.5" width="1.5" height="20" fill="#d2d2d2"/>
<rect x="203.1" y="1713.5" width="1.5" height="20" fill="#d2d2d2"/>
<rect x="211.5" y="1713.5" width="1.5" height="20" fill="#d2d2d2"/>
<rect x="219.9" y="1713.5" width="1.5" height="20" fill="#d2d2d2"/>
<rect x="228.2" y="1713.0" width="1.8" height="19" fill="#333"/>
<rect x="236.7" y="1713.5" width="1.5" height="20" fill="#d2d2d2"/>
<rect x="245.2" y="1713.5" width="1.5" height="20" fill="#d2d2d2"/>
<rect x="253.6" y="1713.5" width="1.5" height="20" fill="#d2d2d2"/>
<rect x="262.0" y="1713.5" width="1.5" height="20" fill="#d2d2d2"/>
<rect x="270.3" y="1713.0" width="1.8" height="19" fill="#333"/>
<rect x="278.8" y="1713.5" width="1.5" height="20" fill="#d2d2d2"/>
<rect x="287.2" y="1713.5" width="1.5" height="20" fill="#d2d2d2"/>
<rect x="295.6" y="1713.5" width="1.5" height="20" fill="#d2d2d2"/>
<rect x="304.0" y="1713.5" width="1.5" height="20" fill="#d2d2d2"/>
<rect x="312.3" y="1713.0" width="1.8" height="19" fill="#333"/>
<rect x="320.9" y="1713.5" width="1.5" height="20" fill="#d2d2d2"/>
<rect x="329.3" y="1713.5" width="1.5" height="20" fill="#d2d2d2"/>
<rect x="337.7" y="1713.5" width="1.5" height="20" fill="#d2d2d2"/>
<rect x="346.1" y="1713.5" width="1.5" height="20" fill="#d2d2d2"/>
<rect x="354.4" y="1713.0" width="1.8" height="19" fill="#333"/>
<rect x="362.9" y="1713.5" width="1.5" height="20" fill="#d2d2d2"/>
<rect x="371.3" y="1713.5" width="1.5" height="20" fill="#d2d2d2"/>
<rect x="379.7" y="1713.5" width="1.5" height="20" fill="#d2d2d2"/>
<rect x="388.1" y="1713.5" width="1.5" height="20" fill="#d2d2d2"/>
<rect x="396.5" y="1713.0" width="1.8" height="19" fill="#333"/>
<rect x="405.0" y="1713.5" width="1.5" height="20" fill="#d2d2d2"/>
<rect x="413.4" y="1713.5" width="1.5" height="20" fill="#d2d2d2"/>
<rect x="421.8" y="1713.5" width="1.5" height="20" fill="#d2d2d2"/>
<rect x="430.2" y="1713.5" width="1.5" height="20" fill="#d2d2d2"/>
<rect x="438.5" y="1713.0" width="1.8" height="19" fill="#333"/>
<rect x="447.0" y="1713.5" width="1.5" height="20" fill="#d2d2d2"/>
<rect x="455.4" y="1713.5" width="1.5" height="20" fill="#d2d2d2"/>
<rect x="463.8" y="1713.5" width="1.5" height="20" fill="#d2d2d2"/>
<rect x="472.3" y="1713.5" width="1.5" height="20" fill="#d2d2d2"/>
<rect x="480.6" y="1713.0" width="1.8" height="19" fill="#333"/>
<rect x="489.1" y="1713.5" width="1.5" height="20" fill="#d2d2d2"/>
<rect x="497.5" y="1713.5" width="1.5" height="20" fill="#d2d2d2"/>
<rect x="505.9" y="1713.5" width="1.5" height="20" fill="#d2d2d2"/>
<rect x="514.3" y="1713.5" width="1.5" height="20" fill="#d2d2d2"/>
<rect x="522.6" y="1713.0" width="1.8" height="19" fill="#333"/>
<rect x="531.1" y="1713.5" width="1.5" height="20" fill="#d2d2d2"/>
<rect x="539.5" y="1713.5" width="1.5" height="20" fill="#d2d2d2"/>
<rect x="548.0" y="1713.5" width="1.5" height="20" fill="#d2d2d2"/>
<rect x="556.4" y="1713.5" width="1.5" height="20" fill="#d2d2d2"/>
<rect x="564.7" y="1713.0" width="1.8" height="19" fill="#333"/>
<rect x="573.2" y="1713.5" width="1.5" height="20" fill="#d2d2d2"/>
<rect x="581.6" y="1713.5" width="1.5" height="20" fill="#d2d2d2"/>
<rect x="590.0" y="1713.5" width="1.5" height="20" fill="#d2d2d2"/>
<rect x="598.4" y="1713.5" width="1.5" height="20" fill="#d2d2d2"/>
<rect x="606.7" y="1713.0" width="1.8" height="19" fill="#333"/>
<rect x="615.2" y="1713.5" width="1.5" height="20" fill="#d2d2d2"/>
<rect x="623.7" y="1713.5" width="1.5" height="20" fill="#d2d2d2"/>
<rect x="632.1" y="1713.5" width="1.5" height="20" fill="#d2d2d2"/>
<rect x="640.5" y="1713.5" width="1.5" height="20" fill="#d2d2d2"/>
<rect x="648.8" y="1713.0" width="1.8" height="19" fill="#333"/>
<rect x="657.3" y="1713.5" width="1.5" height="20" fill="#d2d2d2"/>
<rect x="665.7" y="1713.5" width="1.5" height="20" fill="#d2d2d2"/>
<rect x="674.1" y="1713.5" width="1.5" height="20" fill="#d2d2d2"/>
<rect x="682.5" y="1713.5" width="1.5" height="20" fill="#d2d2d2"/>
<rect x="690.8" y="1713.0" width="1.8" height="19" fill="#333"/>
<rect x="699.4" y="1713.5" width="1.5" height="20" fill="#d2d2d2"/>
<rect x="707.8" y="1713.5" width="1.5" height="20" fill="#d2d2d2"/>
<rect x="716.2" y="1713.5" width="1.5" height="20" fill="#d2d2d2"/>
<rect x="724.6" y="1713.5" width="1.5" height="20" fill="#d2d2d2"/>
<rect x="732.9" y="1713.0" width="1.8" height="19" fill="#333"/>
<rect x="741.4" y="1713.5" width="1.5" height="20" fill="#d2d2d2"/>
<rect x="749.8" y="1713.5" width="1.5" height="20" fill="#d2d2d2"/>
<rect x="758.2" y="1713.5" width="1.5" height="20" fill="#d2d2d2"/>
<rect x="766.6" y="1713.5" width="1.5" height="20" fill="#d2d2d2"/>
<rect x="775.0" y="1713.0" width="1.8" height="19" fill="#333"/>
<rect x="783.5" y="1713.5" width="1.5" height="20" fill="#d2d2d2"/>
<rect x="791.9" y="1713.5" width="1.5" height="20" fill="#d2d2d2"/>
<rect x="800.3" y="1713.5" width="1.5" height="20" fill="#d2d2d2"/>
<rect x="808.7" y="1713.5" width="1.5" height="20" fill="#d2d2d2"/>
<rect x="817.0" y="1713.0" width="1.8" height="19" fill="#333"/>
<rect x="825.5" y="1713.5" width="1.5" height="20" fill="#d2d2d2"/>
<rect x="833.9" y="1713.5" width="1.5" height="20" fill="#d2d2d2"/>
<rect x="842.3" y="1713.5" width="1.5" height="20" fill="#d2d2d2"/>
<rect x="850.7" y="1713.5" width="1.5" height="20" fill="#d2d2d2"/>
<rect x="859.1" y="1713.0" width="1.8" height="19" fill="#333"/>
<rect x="867.6" y="1713.5" width="1.5" height="20" fill="#d2d2d2"/>
<rect x="876.0" y="1713.5" width="1.5" height="20" fill="#d2d2d2"/>
<rect x="884.4" y="1713.5" width="1.5" height="20" fill="#d2d2d2"/>
<rect x="892.8" y="1713.5" width="1.5" height="20" fill="#d2d2d2"/>
<rect x="901.1" y="1713.0" width="1.8" height="19" fill="#333"/>
<rect x="909.6" y="1713.5" width="1.5" height="20" fill="#d2d2d2"/>
<rect x="918.0" y="1713.5" width="1.5" height="20" fill="#d2d2d2"/>
<rect x="926.4" y="1713.5" width="1.5" height="20" fill="#d2d2d2"/>
<rect x="934.9" y="1713.5" width="1.5" height="20" fill="#d2d2d2"/>
<rect x="943.2" y="1713.0" width="1.8" height="19" fill="#333"/>
<rect x="951.7" y="1713.5" width="1.5" height="20" fill="#d2d2d2"/>
<rect x="960.1" y="1713.5" width="1.5" height="20" fill="#d2d2d2"/>
<rect x="968.5" y="1713.5" width="1.5" height="20" fill="#d2d2d2"/>
<rect x="976.9" y="1713.5" width="1.5" height="20" fill="#d2d2d2"/>
<rect x="985.2" y="1713.0" width="1.8" height="19" fill="#333"/>
<rect x="993.7" y="1713.5" width="1.5" height="20" fill="#d2d2d2"/>
<rect x="1002.1" y="1713.5" width="1.5" height="20" fill="#d2d2d2"/>
<rect x="1010.6" y="1713.5" width="1.5" height="20" fill="#d2d2d2"/>
<rect x="1019.0" y="1713.5" width="1.5" height="20" fill="#d2d2d2"/>
<rect x="1027.3" y="1713.0" width="1.8" height="19" fill="#333"/>
<rect x="1035.8" y="1713.5" width="1.5" height="20" fill="#d2d2d2"/>
<rect x="1044.2" y="1713.5" width="1.5" height="20" fill="#d2d2d2"/>
<rect x="1052.6" y="1713.5" width="1.5" height="20" fill="#d2d2d2"/>
<rect x="1061.0" y="1713.5" width="1.5" height="20" fill="#d2d2d2"/>
<rect x="1069.3" y="1713.0" width="1.8" height="19" fill="#333"/>
<rect x="1077.8" y="1713.5" width="1.5" height="20" fill="#d2d2d2"/>
<rect x="1086.3" y="1713.5" width="1.5" height="20" fill="#d2d2d2"/>
<rect x="1094.7" y="1713.5" width="1.5" height="20" fill="#d2d2d2"/>
<rect x="1103.1" y="1713.5" width="1.5" height="20" fill="#d2d2d2"/>
<rect x="1111.4" y="1713.0" width="1.8" height="19" fill="#333"/>
<rect x="1119.9" y="1713.5" width="1.5" height="20" fill="#d2d2d2"/>
<rect x="1128.3" y="1713.5" width="1.5" height="20" fill="#d2d2d2"/>
<rect x="1136.7" y="1713.5" width="1.5" height="20" fill="#d2d2d2"/>
<rect x="1145.1" y="1713.5" width="1.5" height="20" fill="#d2d2d2"/>
<rect x="1153.4" y="1713.0" width="1.8" height="19" fill="#333"/>
<rect x="1162.0" y="1713.5" width="1.5" height="20" fill="#d2d2d2"/>
<rect x="1170.4" y="1713.5" width="1.5" height="20" fill="#d2d2d2"/>
<rect x="1178.8" y="1713.5" width="1.5" height="20" fill="#d2d2d2"/>
<rect x="1187.2" y="1713.5" width="1.5" height="20" fill="#d2d2d2"/>
<rect x="1195.5" y="1713.0" width="1.8" height="19" fill="#333"/>
<rect x="1204.0" y="1713.5" width="1.5" height="20" fill="#d2d2d2"/>
<rect x="1212.4" y="1713.5" width="1.5" height="20" fill="#d2d2d2"/>
<rect x="1220.8" y="1713.5" width="1.5" height="20" fill="#d2d2d2"/>
<rect x="1229.2" y="1713.5" width="1.5" height="20" fill="#d2d2d2"/>
<rect x="1237.6" y="1713.0" width="1.8" height="19" fill="#333"/>
<rect x="1246.1" y="1713.5" width="1.5" height="20" fill="#d2d2d2"/>
<rect x="1254.5" y="1713.5" width="1.5" height="20" fill="#d2d2d2"/>
<rect x="1262.9" y="1713.5" width="1.5" height="20" fill="#d2d2d2"/>
<rect x="1271.3" y="1713.5" width="1.5" height="20" fill="#d2d2d2"/>
<rect x="1279.6" y="1713.0" width="1.8" height="19" fill="#333"/>
<rect x="1288.1" y="1713.5" width="1.5" height="20" fill="#d2d2d2"/>
<rect x="1296.5" y="1713.5" width="1.5" height="20" fill="#d2d2d2"/>
<rect x="1304.9" y="1713.5" width="1.5" height="20" fill="#d2d2d2"/>
<rect x="1313.4" y="1713.5" width="1.5" height="20" fill="#d2d2d2"/>
<rect x="1321.7" y="1713.0" width="1.8" height="19" fill="#333"/>
<rect x="1330.2" y="1713.5" width="1.5" height="20" fill="#d2d2d2"/>
<rect x="1338.6" y="1713.5" width="1.5" height="20" fill="#d2d2d2"/>
<rect x="1347.0" y="1713.5" width="1.5" height="20" fill="#d2d2d2"/>
<rect x="1355.4" y="1713.5" width="1.5" height="20" fill="#d2d2d2"/>
<rect x="1363.7" y="1713.0" width="1.8" height="19" fill="#333"/>
<rect x="1372.2" y="1713.5" width="1.5" height="20" fill="#d2d2d2"/>
<rect x="1380.6" y="1713.5" width="1.5" height="20" fill="#d2d2d2"/>
<rect x="1389.1" y="1713.5" width="1.5" height="20" fill="#d2d2d2"/>
<rect x="1397.5" y="1713.5" width="1.5" height="20" fill="#d2d2d2"/>
<rect x="1405.8" y="1713.0" width="1.8" height="19" fill="#333"/>
<rect x="1414.3" y="1713.5" width="1.5" height="20" fill="#d2d2d2"/>
<rect x="1422.7" y="1713.5" width="1.5" height="20" fill="#d2d2d2"/>
<rect x="1431.1" y="1713.5" width="1.5" height="20" fill="#d2d2d2"/>
<rect x="1439.5" y="1713.5" width="1.5" height="20" fill="#d2d2d2"/>
<rect x="1447.8" y="1713.0" width="1.8" height="19" fill="#333"/>
<rect x="1456.3" y="1713.5" width="1.5" height="20" fill="#d2d2d2"/>
<rect x="1464.8" y="1713.5" width="1.5" height="20" fill="#d2d2d2"/>
<rect x="1473.2" y="1713.5" width="1.5" height="20" fill="#d2d2d2"/>
<rect x="1481.6" y="1713.5" width="1.5" height="20" fill="#d2d2d2"/>
<rect x="1489.9" y="1713.0" width="1.8" height="19" fill="#333"/>
<rect x="1498.4" y="1713.5" width="1.5" height="20" fill="#d2d2d2"/>
<rect x="1506.8" y="1713.5" width="1.5" height="20" fill="#d2d2d2"/>
<rect x="1515.2" y="1713.5" width="1.5" height="20" fill="#d2d2d2"/>
<rect x="1523.6" y="1713.5" width="1.5" height="20" fill="#d2d2d2"/>
<rect x="1531.9" y="1713.0" width="1.8" height="19" fill="#333"/>
<rect x="1540.5" y="1713.5" width="1.5" height="20" fill="#d2d2d2"/>
<rect x="1548.9" y="1713.5" width="1.5" height="20" fill="#d2d2d2"/>
<rect x="1557.3" y="1713.5" width="1.5" height="20" fill="#d2d2d2"/>
<rect x="1565.7" y="1713.5" width="1.5" height="20" fill="#d2d2d2"/>
<rect x="1574.0" y="1713.0" width="1.8" height="19" fill="#333"/>
<rect x="1582.5" y="1713.5" width="1.5" height="20" fill="#d2d2d2"/>
</g>
<g fill="#1a1a1a" style="font-size:14px">
<text transform="translate(107.9,1743.0) rotate(-90)" text-anchor="middle">200</text>
<text transform="translate(192.0,1743.0) rotate(-90)" text-anchor="middle">190</text>
<text transform="translate(276.1,1743.0) rotate(-90)" text-anchor="middle">180</text>
<text transform="translate(360.2,1743.0) rotate(-90)" text-anchor="middle">170</text>
<text transform="translate(444.3,1743.0) rotate(-90)" text-anchor="middle">160</text>
<text transform="translate(528.4,1743.0) rotate(-90)" text-anchor="middle">150</text>
<text transform="translate(612.5,1743.0) rotate(-90)" text-anchor="middle">140</text>
<text transform="translate(696.6,1743.0) rotate(-90)" text-anchor="middle">130</text>
<text transform="translate(780.8,1743.0) rotate(-90)" text-anchor="middle">120</text>
<text transform="translate(864.9,1743.0) rotate(-90)" text-anchor="middle">110</text>
<text transform="translate(949.0,1743.0) rotate(-90)" text-anchor="middle">100</text>
<text transform="translate(1033.1,1743.0) rotate(-90)" text-anchor="middle">90</text>
<text transform="translate(1117.2,1743.0) rotate(-90)" text-anchor="middle">80</text>
<text transform="translate(1201.3,1743.0) rotate(-90)" text-anchor="middle">70</text>
<text transform="translate(1285.4,1743.0) rotate(-90)" text-anchor="middle">60</text>
<text transform="translate(1369.5,1743.0) rotate(-90)" text-anchor="middle">50</text>
<text transform="translate(1453.6,1743.0) rotate(-90)" text-anchor="middle">40</text>
<text transform="translate(1537.7,1743.0) rotate(-90)" text-anchor="middle">30</text>
</g>
<g>
<circle cx="69" cy="1806.6" r="19.3" fill="#111"/>
<circle cx="69" cy="1859" r="19.3" fill="#e3587a"/>
<circle cx="69" cy="1914.4" r="19.3" fill="#6cc82f"/>
<circle cx="531" cy="1804" r="19.3" fill="#1a8bc9"/>
<circle cx="531" cy="1859.5" r="19.3" fill="#80d1dc"/>
<circle cx="531" cy="1912.8" r="19.3" fill="#8e45a0"/>
</g>
<g fill="#111">
<text x="111.0" y="1812.4" style="font-size:28.5px" textLength="87.2" lengthAdjust="spacingAndGlyphs">Scales</text>
<text x="110.4" y="1868.9" style="font-size:28.5px" textLength="188.9" lengthAdjust="spacingAndGlyphs">Monofilaments</text>
<text x="111.7" y="1922.2" style="font-size:28.5px" textLength="253.5" lengthAdjust="spacingAndGlyphs">Brush-like filaments</text>
<text x="573.8" y="1814.0" style="font-size:28.5px" textLength="220.1" lengthAdjust="spacingAndGlyphs">Tufts of filaments</text>
<text x="572.0" y="1867.3" style="font-size:28.5px" textLength="645.9" lengthAdjust="spacingAndGlyphs">Open pennaceous vane (no secondary branching)</text>
<text x="572.0" y="1922.2" style="font-size:28.5px" textLength="684.7" lengthAdjust="spacingAndGlyphs">Closed pennaceous vane (with secondary branching)</text>
</g>
<path d="M222.8,1826.3 Q231,1824 234,1808 L236,1790 Q237,1783 250,1782.2 L280,1782.2 Q286,1783 288,1790 L295,1815 Q298,1823 302,1826.3 Q296,1827.5 291,1820 L284,1807 Q281,1805 270,1805 L246,1805.5 Q240,1806 238,1812 Q232,1826 222.8,1826.3 Z" fill="#f39191"/>
<path d="M235,1799 L236,1790 Q237,1783 250,1782.2 L280,1782.2 Q286,1783 288,1790 L290.5,1797 Q268,1793.5 235,1799 Z" fill="#e0321e"/>
<path d="M331.4,1806.7 Q375.4,1860.6 347.7,1891.6" fill="none" stroke="#d8323a" stroke-width="2"/>
<g fill="none" stroke="#d42a2e" stroke-width="1.7" stroke-linecap="round">
<path d="M412.2,1960.1 L410.5,1907.1" stroke-width="2.4"/>
<path d="M410.5,1907.1 Q404,1895 381.2,1900.6"/>
<path d="M410.5,1907.1 Q406,1892 393.4,1885"/>
<path d="M410.5,1907.1 L410.5,1884.2"/>
<path d="M410.5,1907.1 Q414,1893 422.8,1889.1"/>
<path d="M410.5,1907.1 Q418,1895 430.1,1910.4"/>
</g>
<g fill="none" stroke="#c8283e" stroke-width="1.3">
<path d="M821.5,1775 Q826,1795 840,1801 Q845,1815 843,1827"/>
<path d="M830,1766.5 Q828,1790 846,1805 Q852,1815 845,1826"/>
<path d="M837,1766.5 Q838,1790 850,1805 Q857,1815 845,1827"/>
<path d="M845,1766.5 Q843,1790 853,1808 Q856,1820 845,1827"/>
<path d="M849,1775 Q862,1795 861,1812 Q858,1825 846,1829"/>
</g>
<g fill="none" stroke="#d8282c" stroke-width="1.6">
<path d="M1258,1801.4 Q1259,1850 1265,1888"/>
<path d="M1259,1821.0 Q1250,1808.0 1235,1804.0"/>
<path d="M1259,1821.0 Q1265,1809.0 1277.5,1803.0"/>
<path d="M1259,1837.5 Q1250,1824.5 1235.5,1820.5"/>
<path d="M1259,1837.5 Q1265,1825.5 1278,1819.5"/>
<path d="M1259,1852.5 Q1250,1839.5 1237,1835.5"/>
<path d="M1259,1852.5 Q1265,1840.5 1279,1834.5"/>
<path d="M1259,1866.0 Q1250,1853.0 1240,1849.0"/>
<path d="M1259,1866.0 Q1265,1854.0 1281,1848.0"/>
</g>
<path d="M1320.8,1868 Q1327,1885 1330.5,1912 Q1331,1935 1322,1948 L1322,1961 L1319.5,1961 L1319.5,1948 Q1310,1935 1311,1912 Q1314,1885 1320.8,1868 Z" fill="#dc2c3c"/>
</svg>
</body></html>
